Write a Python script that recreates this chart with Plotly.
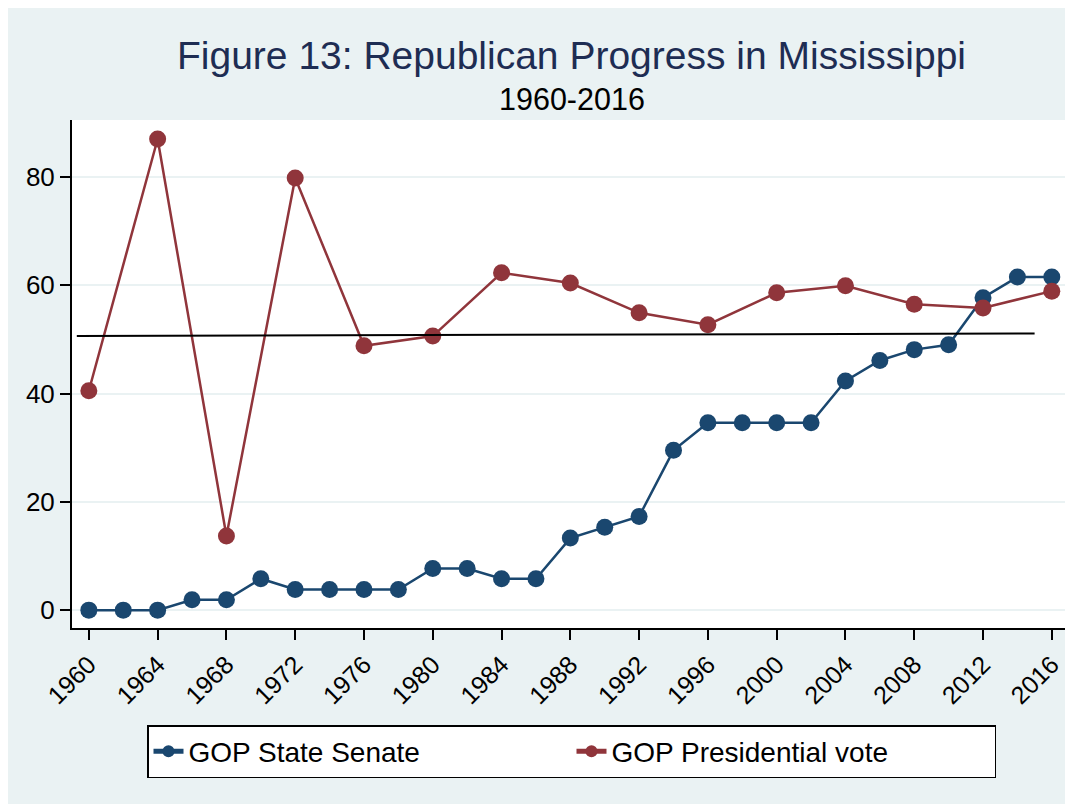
import plotly.graph_objects as go

# ---- data ----
years_senate = [1960, 1962, 1964, 1966, 1968, 1970, 1972, 1974, 1976, 1978,
                1980, 1982, 1984, 1986, 1988, 1990, 1992, 1994, 1996, 1998,
                2000, 2002, 2004, 2006, 2008, 2010, 2012, 2014, 2016]
gop_senate = [0, 0, 0, 1.9, 1.9, 5.8, 3.8, 3.8, 3.8, 3.8,
              7.7, 7.7, 5.8, 5.8, 13.3, 15.3, 17.3, 29.5, 34.6, 34.6,
              34.6, 34.6, 42.3, 46.1, 48.1, 49.0, 57.7, 61.5, 61.5]

years_pres = [1960, 1964, 1968, 1972, 1976, 1980, 1984, 1988, 1992, 1996,
              2000, 2004, 2008, 2012, 2016]
gop_pres = [40.5, 87.0, 13.7, 79.8, 48.8, 50.6, 62.3, 60.4, 54.9, 52.7,
            58.6, 59.9, 56.5, 55.8, 58.9]

ref_line_x = [1959.3, 2015.0]
ref_line_y = [50.6, 51.1]

x_ticks = list(range(1960, 2017, 4))
y_ticks = [0, 20, 40, 60, 80]

title_text = "Figure 13: Republican Progress in Mississippi"
subtitle_text = "1960-2016"
senate_name = "GOP State Senate"
pres_name = "GOP Presidential vote"

# ---- styling ----
NAVY = "#1a476f"
MAROON = "#90353b"
BG = "#eaf2f3"
FONT = "Liberation Sans, Arial, sans-serif"

OFF = 8  # page body margin
W, H = 1063, 796
L, R, T, B = 64, 2, 112, 176
PW, PH = W - L - R, H - T - B


def px_x(p):  # screen x -> paper x
    return (p - OFF - L) / PW


def px_y(p):  # screen y -> paper y
    return (H - B - (p - OFF)) / PH


fig = go.Figure()

fig.add_trace(go.Scatter(
    x=years_senate, y=gop_senate, name=senate_name, mode="lines+markers",
    line=dict(color=NAVY, width=2.5),
    marker=dict(color=NAVY, size=17, line=dict(width=0)),
))
fig.add_trace(go.Scatter(
    x=years_pres, y=gop_pres, name=pres_name, mode="lines+markers",
    line=dict(color=MAROON, width=2.5),
    marker=dict(color=MAROON, size=17, line=dict(width=0)),
))
fig.add_trace(go.Scatter(
    x=ref_line_x, y=ref_line_y, mode="lines", showlegend=False,
    line=dict(color="black", width=2), hoverinfo="skip",
))

fig.add_annotation(text=title_text, xref="paper", yref="paper",
                   x=px_x(571.5), y=px_y(55), xanchor="center", yanchor="middle",
                   showarrow=False, font=dict(family=FONT, size=39, color="#1e2d53"))
fig.add_annotation(text=subtitle_text, xref="paper", yref="paper",
                   x=px_x(571.5), y=px_y(99), xanchor="center", yanchor="middle",
                   showarrow=False, font=dict(family=FONT, size=30.5, color="black"))

fig.update_layout(
    template="none",
    width=W, height=H,
    margin=dict(l=L, r=R, t=T, b=B, pad=0),
    paper_bgcolor=BG,
    plot_bgcolor="white",
    font=dict(family=FONT, color="black"),
    showlegend=True,
    legend=dict(
        orientation="h", x=px_x(571.5), xanchor="center",
        y=px_y(725), yanchor="top",
        bgcolor="white", bordercolor="black", borderwidth=1.5,
        font=dict(family=FONT, size=28, color="black"),
        entrywidth=378, entrywidthmode="pixels",
        itemsizing="constant",
    ),
    xaxis=dict(
        range=[1959.02, 2017.0], tickvals=x_ticks,
        ticktext=[str(v) for v in x_ticks], tickangle=-45,
        showgrid=False, zeroline=False,
        showline=True, linecolor="black", linewidth=2,
        ticks="outside", ticklen=10, tickwidth=1.5, tickcolor="black",
        tickfont=dict(family=FONT, size=25, color="black"),
        automargin=False,
    ),
    yaxis=dict(
        range=[-3.3, 90.5], tickvals=y_ticks,
        showgrid=True, gridcolor=BG, gridwidth=2, zeroline=False,
        showline=True, linecolor="black", linewidth=2,
        ticks="outside", ticklen=10, tickwidth=1.5, tickcolor="black",
        tickfont=dict(family=FONT, size=26, color="black"),
        ticklabelstandoff=0,
        automargin=False,
    ),
)

fig.write_html("out.html")
